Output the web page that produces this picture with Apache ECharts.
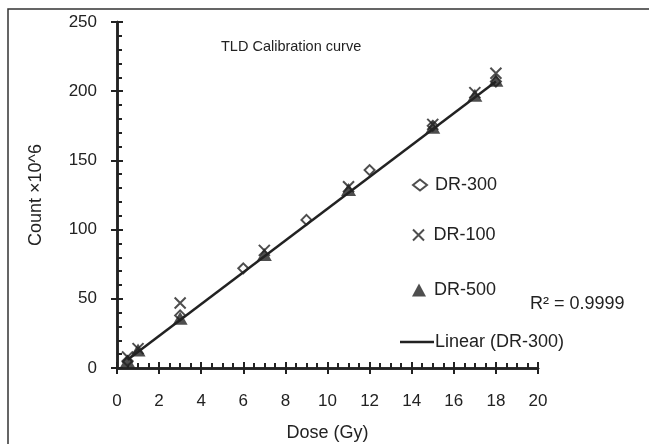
<!DOCTYPE html>
<html>
<head>
<meta charset="utf-8">
<script src="https://cdn.jsdelivr.net/npm/echarts@6/dist/echarts.min.js"></script>
<style>
  html, body { margin: 0; padding: 0; background: #fff; }
  #chart { width: 649px; height: 444px; }
</style>
</head>
<body>
<div id="chart"></div>
<script>
// doses (Gy) and counts (x10^6)
const dr300X = [0.5, 3, 6, 9, 12, 15, 18];
const dr300Y = [5, 38, 72, 107, 143, 175, 207];
const dr100X = [0.5, 1, 3, 7, 11, 15, 17, 18];
const dr100Y = [8, 14, 47, 85, 131, 176, 199, 213];
const dr500X = [0.5, 1, 3, 7, 11, 15, 17, 18];
const dr500Y = [5, 13, 36, 82, 129, 174, 197, 208];
// trend line ends for Linear (DR-300)
const trendX = [0.5, 18];
const trendY = [6, 207];

const xTicks = { min: 0, max: 20, interval: 2 };
const yTicks = { min: 0, max: 250, interval: 50 };

const ink = "#222";
const font = "Liberation Sans";
const fs = 17;

const pairs = (xs, ys) => xs.map((x, i) => [x, ys[i]]);

const chart = echarts.init(document.getElementById("chart"));

const baseX = {
  type: "value",
  min: xTicks.min,
  max: xTicks.max,
  interval: xTicks.interval,
  splitLine: { show: false },
  axisLine: { show: true, onZero: false, lineStyle: { color: ink, width: 2.5 } }
};
const baseY = {
  type: "value",
  min: yTicks.min,
  max: yTicks.max,
  interval: yTicks.interval,
  splitLine: { show: false },
  axisLine: { show: true, onZero: false, lineStyle: { color: ink, width: 2.5 } }
};

const legendText = { fontFamily: font, fontSize: 18, color: "#222", padding: [0, 0, 0, 3] };

chart.setOption({
  animation: false,
  textStyle: { fontFamily: font },
  title: {
    text: "TLD Calibration curve",
    left: 216,
    top: 34,
    textStyle: { fontFamily: font, fontSize: 14.5, fontWeight: "normal", color: "#222" }
  },
  graphic: [
    {
      type: "rect",
      shape: { x: 8, y: 9, width: 700, height: 500 },
      style: { fill: "none", stroke: "#333", lineWidth: 1.5 },
      silent: true,
      z: -1
    },
    {
      type: "text",
      left: 530,
      top: 295,
      style: { text: "R² = 0.9999", fontFamily: font, fontSize: 18, fill: "#222" }
    }
  ],
  grid: { left: 117, right: 111, top: 22, bottom: 76, containLabel: false, outerBoundsMode: "none" },
  legend: [
    { data: ["DR-300"], left: 407, top: 171, itemWidth: 14, itemHeight: 11, itemGap: 0, textStyle: legendText },
    { data: ["DR-100"], left: 407, top: 221, itemWidth: 14, itemHeight: 11, itemGap: 0, textStyle: legendText },
    { data: ["DR-500"], left: 407, top: 276, itemWidth: 14, itemHeight: 13, itemGap: 0, textStyle: legendText },
    {
      data: [{ name: "Linear (DR-300)", icon: "rect" }],
      left: 395, top: 328, itemWidth: 34, itemHeight: 2.5, itemGap: 0,
      textStyle: Object.assign({}, legendText, { padding: [0, 0, 0, -4] })
    }
  ],
  xAxis: [
    Object.assign({}, baseX, {
      name: "Dose (Gy)",
      nameLocation: "middle",
      nameGap: 56,
      nameTextStyle: { fontFamily: font, fontSize: 18, color: "#222" },
      axisTick: { show: true, inside: false, length: 6, lineStyle: { color: ink, width: 2 } },
      axisLabel: { margin: 25, fontFamily: font, fontSize: fs, color: "#222" }
    }),
    Object.assign({}, baseX, {
      position: "bottom",
      axisLabel: { show: false },
      axisTick: { show: true, inside: true, length: 6, lineStyle: { color: ink, width: 2 } },
      minorTick: { show: true, splitNumber: 4, length: 5, lineStyle: { color: ink, width: 2 } }
    })
  ],
  yAxis: [
    Object.assign({}, baseY, {
      name: "Count ×10^6",
      nameLocation: "middle",
      nameGap: 72,
      nameTextStyle: { fontFamily: font, fontSize: 18, color: "#222" },
      axisTick: { show: true, inside: false, length: 6, lineStyle: { color: ink, width: 2 } },
      axisLabel: { margin: 20, fontFamily: font, fontSize: fs, color: "#222" }
    }),
    Object.assign({}, baseY, {
      position: "left",
      axisLabel: { show: false },
      axisTick: { show: true, inside: true, length: 6, lineStyle: { color: ink, width: 2 } },
      minorTick: { show: true, splitNumber: 5, length: 5, lineStyle: { color: ink, width: 2 } }
    })
  ],
  series: [
    {
      name: "DR-300",
      type: "scatter",
      symbol: "diamond",
      symbolSize: 10,
      itemStyle: { color: "#fff", borderColor: ink, borderWidth: 2 },
      data: pairs(dr300X, dr300Y),
      z: 3
    },
    {
      name: "DR-100",
      type: "scatter",
      symbol: "path://M0,0L10,10M10,0L0,10",
      symbolSize: 11,
      itemStyle: { color: "rgba(0,0,0,0)", borderColor: ink, borderWidth: 2 },
      data: pairs(dr100X, dr100Y),
      z: 3
    },
    {
      name: "DR-500",
      type: "scatter",
      symbol: "triangle",
      symbolSize: [15, 13],
      itemStyle: { color: ink },
      data: pairs(dr500X, dr500Y),
      z: 3
    },
    {
      name: "Linear (DR-300)",
      type: "line",
      showSymbol: false,
      symbol: "none",
      lineStyle: { color: ink, width: 2.5 },
      itemStyle: { color: ink },
      data: pairs(trendX, trendY),
      z: 4
    }
  ]
});
</script>
</body>
</html>
